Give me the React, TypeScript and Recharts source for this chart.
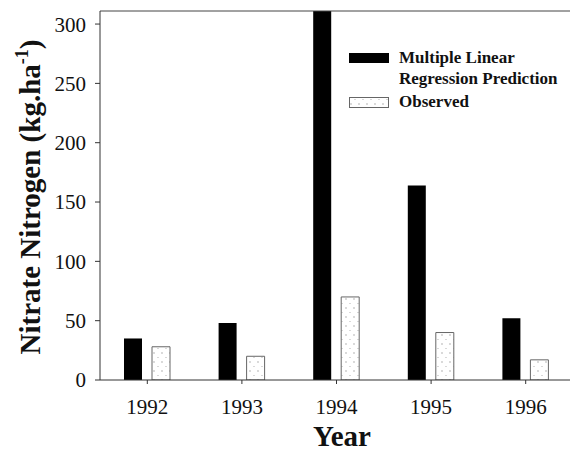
import React from 'react';
import { BarChart, Bar, XAxis, YAxis, ReferenceLine, Legend } from 'recharts';

const years = ['1992', '1993', '1994', '1995', '1996'];
const mlrPrediction = [35, 48, 340, 164, 52];
const observed = [28, 20, 70, 40, 17];
const yTicks = [0, 50, 100, 150, 200, 250, 300];
const yMax = 311;

const data = years.map((year, i) => ({ year, mlr: mlrPrediction[i], obs: observed[i] }));

const FONT = '"Liberation Serif", "Times New Roman", Times, serif';
const AXIS = '#333';

const YLabel = () => (
  <text
    x={40}
    y={197}
    transform="rotate(-90, 40, 197)"
    textAnchor="middle"
    style={{ fontFamily: FONT, fontWeight: 'bold', fontSize: 29 }}
    fill="#111"
  >
    Nitrate Nitrogen (kg.ha
    <tspan style={{ fontSize: 18 }} dy={-12}>-1</tspan>
    <tspan dy={12}>)</tspan>
  </text>
);

const XLabel = () => (
  <text x={342} y={446} textAnchor="middle" style={{ fontFamily: FONT, fontWeight: 'bold', fontSize: 29 }} fill="#111">
    Year
  </text>
);

const LegendContent = () => (
  <div style={{ position: 'relative', width: 230, height: 70, fontFamily: FONT, fontWeight: 'bold', fontSize: 17, color: '#111' }}>
    <svg width={42} height={70} style={{ position: 'absolute', left: 0, top: 0 }}>
      <rect x={0} y={5} width={40} height={10} fill="#000" />
      <rect x={0.5} y={49.5} width={39} height={10} fill="url(#dots)" stroke="#666" strokeWidth={1} />
    </svg>
    <div style={{ position: 'absolute', left: 50, top: -1, lineHeight: '21px', whiteSpace: 'nowrap' }}>
      Multiple Linear
      <br />
      Regression Prediction
    </div>
    <div style={{ position: 'absolute', left: 50, top: 43, lineHeight: '21px', whiteSpace: 'nowrap' }}>Observed</div>
  </div>
);

export default function App() {
  return (
    <div style={{ position: 'absolute', left: 0, top: 0, width: 570, height: 453, overflow: 'hidden', background: '#fff', fontFamily: FONT }}>
      <BarChart
        width={573}
        height={453}
        data={data}
        margin={{ top: 11, right: 0, left: 0, bottom: 0 }}
        barSize={18}
        barGap={10}
        style={{ fontFamily: FONT }}
      >
        <defs>
          <pattern id="dots" patternUnits="userSpaceOnUse" width="8" height="9">
            <rect width="8" height="9" fill="#fff" />
            <circle cx="2" cy="2" r="0.7" fill="#999" />
            <circle cx="6" cy="6.5" r="0.6" fill="#aaa" />
          </pattern>
        </defs>
        <XAxis
          dataKey="year"
          height={73}
          axisLine={{ stroke: AXIS }}
          tickLine={{ stroke: AXIS }}
          tickSize={4}
          tickMargin={15}
          tick={{ fontSize: 21, fill: '#111', style: { fontFamily: FONT } }}
          label={<XLabel />}
        />
        <YAxis
          width={100}
          domain={[0, yMax]}
          ticks={yTicks}
          allowDataOverflow
          axisLine={{ stroke: AXIS }}
          tickLine={{ stroke: AXIS }}
          tickSize={5}
          tickMargin={9}
          tick={{ fontSize: 21, fill: '#111', style: { fontFamily: FONT } }}
          label={<YLabel />}
        />
        <ReferenceLine y={yMax} stroke="#444" strokeWidth={1} />
        <Bar dataKey="mlr" name="Multiple Linear Regression Prediction" fill="#000" isAnimationActive={false} />
        <Bar dataKey="obs" name="Observed" fill="url(#dots)" stroke="#666" strokeWidth={1} isAnimationActive={false} />
        <Legend
          layout="vertical"
          align="center"
          verticalAlign="middle"
          content={<LegendContent />}
          wrapperStyle={{ position: 'absolute', left: 349, top: 48, width: 230, fontFamily: FONT }}
        />
      </BarChart>
    </div>
  );
}
